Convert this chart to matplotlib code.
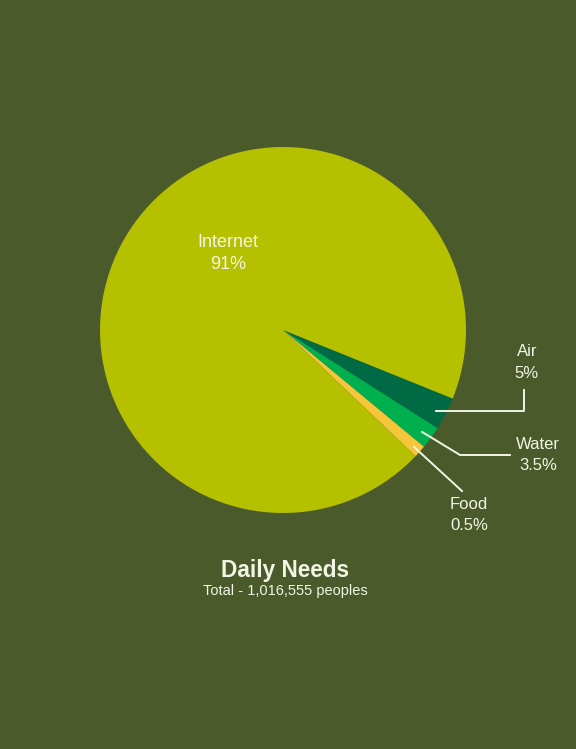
import matplotlib.pyplot as plt

# Slice names, the percentages printed on the chart, and the slice sizes as drawn
categories = ['Air', 'Water', 'Food', 'Internet']
share_labels = ['5%', '3.5%', '0.5%', '91%']
slice_sizes = [2.9, 2.0, 1.1, 94.0]
colors = ['#006a45', '#00b04f', '#f5c53a', '#b5c000']

title = 'Daily Needs'
subtitle = 'Total - 1,016,555 peoples'

bg = '#4a5a2b'
txt = '#f2f5e4'

plt.rcParams['font.family'] = ['Liberation Sans', 'DejaVu Sans']

fig = plt.figure(figsize=(5.76, 7.49), dpi=100, facecolor=bg)
ax = fig.add_axes([100 / 576, 236 / 749, 366 / 576, 366 / 749])
ax.set_facecolor(bg)

ax.pie(slice_sizes, colors=colors, startangle=-22, counterclock=False,
       radius=1, wedgeprops=dict(linewidth=0))
ax.set_xlim(-1, 1)
ax.set_ylim(-1, 1)
ax.set_aspect('equal')
ax.axis('off')

fs = 12
# Internet label inside the pie
ax.text(-0.30, 0.48, categories[3], color=txt, fontsize=13, ha='center', va='center')
ax.text(-0.30, 0.36, share_labels[3], color=txt, fontsize=13, ha='center', va='center')

# Air
ax.plot([0.836, 1.317, 1.317], [-0.443, -0.443, -0.328], color=txt, lw=1.4, clip_on=False)
ax.text(1.333, -0.12, categories[0], color=txt, fontsize=fs, ha='center', va='center')
ax.text(1.333, -0.235, share_labels[0], color=txt, fontsize=fs, ha='center', va='center')

# Water
ax.plot([0.760, 0.967, 1.240], [-0.557, -0.683, -0.683], color=txt, lw=1.4, clip_on=False)
ax.text(1.393, -0.628, categories[1], color=txt, fontsize=fs, ha='center', va='center')
ax.text(1.393, -0.743, share_labels[1], color=txt, fontsize=fs, ha='center', va='center')

# Food
ax.plot([0.716, 0.978], [-0.639, -0.880], color=txt, lw=1.4, clip_on=False)
ax.text(1.016, -0.956, categories[2], color=txt, fontsize=fs, ha='center', va='center')
ax.text(1.016, -1.066, share_labels[2], color=txt, fontsize=fs, ha='center', va='center')

fig.text(285 / 576, 1 - 570 / 749, title, color=txt, fontsize=16.3, fontweight='bold',
         ha='center', va='center')
fig.text(285 / 576, 1 - 591 / 749, subtitle, color=txt, fontsize=10.5,
         ha='center', va='center')

fig.savefig('out.png', dpi=100, facecolor=bg)
